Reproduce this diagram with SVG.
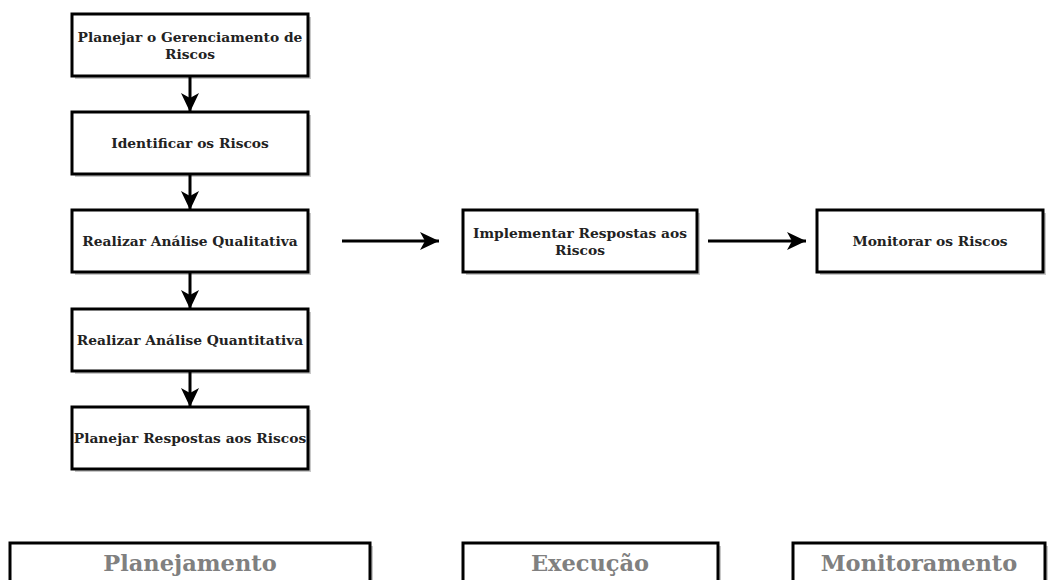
<svg xmlns="http://www.w3.org/2000/svg" width="1048" height="580" viewBox="0 0 1048 580">
<defs>
<marker id="ah" markerWidth="20" markerHeight="20" viewBox="0 0 20 20" refX="19" refY="10" orient="auto" markerUnits="userSpaceOnUse">
<path d="M0,1 L19,10 L0,19 L5,10 z" fill="#000"/>
</marker>
</defs>
<style>
.box{fill:#fff;stroke:#000;stroke-width:3}
.sh{fill:#c8c8c8}
.t{font-family:"DejaVu Serif","Liberation Serif",serif;font-weight:bold;font-size:13.8px;fill:#222;text-anchor:middle}
.big{font-family:"DejaVu Serif","Liberation Serif",serif;font-weight:bold;font-size:22.5px;fill:#808080;text-anchor:middle}
.c{stroke:#000;stroke-width:3;fill:none}
</style>
<rect width="1048" height="580" fill="#fff"/>
<g id="n1"><rect class="sh" x="75" y="17" width="236" height="62"/><rect class="box" x="72" y="14" width="236" height="62"/><text class="t" x="190" y="42">Planejar o Gerenciamento de</text><text class="t" x="190" y="59">Riscos</text></g>
<g id="n2"><rect class="sh" x="75" y="115" width="236" height="62"/><rect class="box" x="72" y="112" width="236" height="62"/><text class="t" x="190" y="148">Identificar os Riscos</text></g>
<g id="n3"><rect class="sh" x="75" y="213" width="236" height="62"/><rect class="box" x="72" y="210" width="236" height="62"/><text class="t" x="190" y="246">Realizar Análise Qualitativa</text></g>
<g id="n4"><rect class="sh" x="75" y="312" width="236" height="62"/><rect class="box" x="72" y="309" width="236" height="62"/><text class="t" x="190" y="345">Realizar Análise Quantitativa</text></g>
<g id="n5"><rect class="sh" x="75" y="410" width="236" height="62"/><rect class="box" x="72" y="407" width="236" height="62"/><text class="t" x="190" y="443">Planejar Respostas aos Riscos</text></g>
<g id="n6"><rect class="sh" x="466" y="213" width="234" height="62"/><rect class="box" x="463" y="210" width="234" height="62"/><text class="t" x="580" y="238">Implementar Respostas aos</text><text class="t" x="580" y="255">Riscos</text></g>
<g id="n7"><rect class="sh" x="820" y="213" width="226" height="62"/><rect class="box" x="817" y="210" width="226" height="62"/><text class="t" x="930" y="246">Monitorar os Riscos</text></g>
<g id="p1"><rect class="sh" x="13" y="546" width="360" height="60"/><rect class="box" x="10" y="543" width="360" height="60"/><text class="big" x="190" y="571">Planejamento</text></g>
<g id="p2"><rect class="sh" x="466" y="546" width="255" height="60"/><rect class="box" x="463" y="543" width="255" height="60"/><text class="big" x="590" y="571">Execução</text></g>
<g id="p3"><rect class="sh" x="796" y="546" width="252" height="60"/><rect class="box" x="793" y="543" width="252" height="60"/><text class="big" x="919" y="571">Monitoramento</text></g>
<g id="connectors">
<line class="c" x1="190" y1="76" x2="190" y2="112" marker-end="url(#ah)"/>
<line class="c" x1="190" y1="174" x2="190" y2="210" marker-end="url(#ah)"/>
<line class="c" x1="190" y1="272" x2="190" y2="309" marker-end="url(#ah)"/>
<line class="c" x1="190" y1="371" x2="190" y2="407" marker-end="url(#ah)"/>
<line class="c" x1="342" y1="241" x2="439" y2="241" marker-end="url(#ah)"/>
<line class="c" x1="708" y1="241" x2="806" y2="241" marker-end="url(#ah)"/>
</g>
</svg>
